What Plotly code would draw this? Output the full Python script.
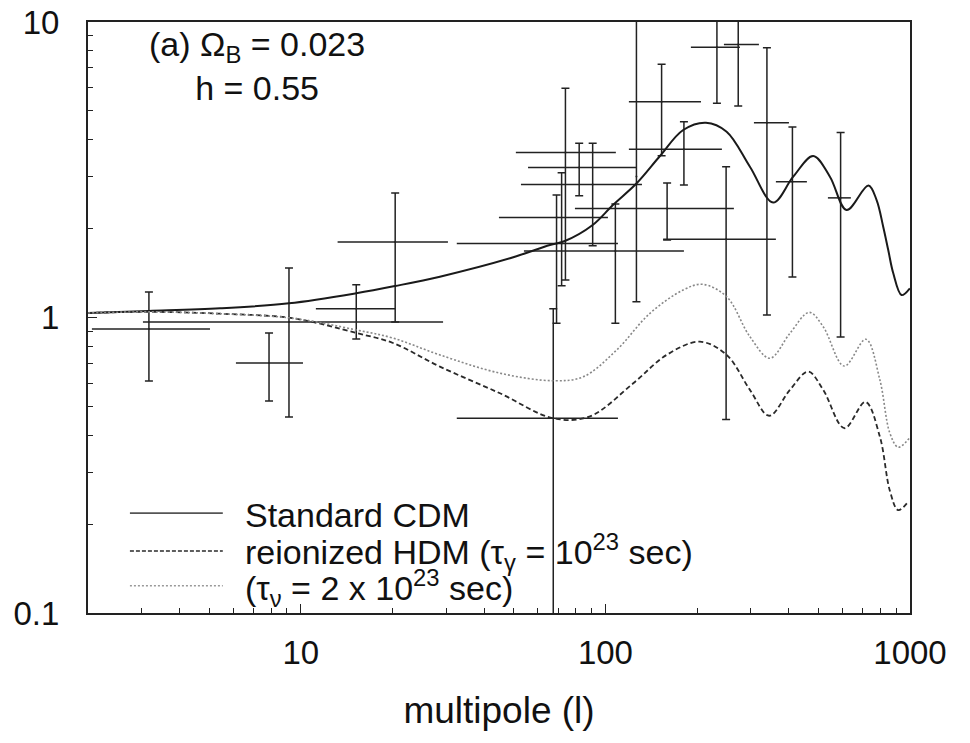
import plotly.graph_objects as go

# ---------------- data ----------------
# experimental band powers: multipole centre, window range, value, error range
pt_l    = [3.17, 7.86, 9.14, 15.2, 20.4, 67.4, 69.1, 71.8, 73.9, 82.0, 90.8, 107.8,
           126.4, 152.9, 159.4, 181.0, 232.3, 249.0, 272.9, 339.0, 411.1, 591.8]
pt_lmin = [2.06, 6.12, 3.03, 11.2, 13.2, 32.5, 44.7, 32.5, 50.8, 55.7, 52.8, 54.0,
           126.4, 119.4, 79.4, 119.4, 190.8, 154.7, 244.9, 307.3, 362.8, 537.6]
pt_lmax = [5.03, 10.16, 29.3, 20.4, 30.4, 109.9, 101.9, 109.9, 108.2, 126.9, 131.8, 181.0,
           126.4, 205.9, 264.1, 241.2, 276.4, 362.8, 319.1, 400.4, 458.6, 639.5]
pt_v    = [0.914, 0.701, 0.966, 1.07, 1.80, 0.456, 2.18, 1.78, 3.62, 3.22, 2.82, 1.68,
           3.0, 5.37, 2.34, 3.71, 8.21, 1.84, 8.40, 4.56, 2.88, 2.54]
pt_vmin = [0.610, 0.522, 0.461, 0.846, 0.966, 0.05, 0.956, 1.28, 1.34, 2.58, 1.75, 0.956,
           1.13, 3.53, 1.83, 2.81, 5.31, 0.452, 5.20, 1.02, 1.37, 0.859]
pt_vmax = [1.22, 0.886, 1.47, 1.29, 2.64, 1.07, 2.60, 3.09, 5.97, 3.89, 3.89, 2.42,
           20.0, 7.19, 2.85, 4.60, 20.0, 3.24, 20.0, 8.18, 4.41, 4.23]

# Standard CDM
cdm_l = [2.00, 3.17, 5.43, 9.14, 15.2, 20.4, 28.6, 48.6, 65.7, 73.6, 90.8, 105.8,
         126.6, 151.0, 180.0, 213.8, 250.0, 298.1, 355.4, 413.6, 481.0, 545.8,
         619.3, 730.1, 776.9, 816.6, 848.3, 880.8, 938.5, 999.0]
cdm_v = [1.036, 1.052, 1.074, 1.117, 1.208, 1.278, 1.374, 1.586, 1.759, 1.815, 2.056, 2.403,
         2.846, 3.520, 4.311, 4.563, 4.254, 3.238, 2.450, 2.996, 3.520, 2.996,
         2.310, 2.797, 2.498, 2.029, 1.692, 1.414, 1.191, 1.255]

# reionized HDM (tau = 1e23 s)
hdm1_l = [2.00, 3.195, 5.43, 9.42, 15.24, 20.06, 28.6, 45.05, 67.4, 88.55, 123.4, 158.8,
          204.3, 250.0, 298.1, 344.9, 403.4, 463.2, 518.8, 609.1, 713.7, 796.3, 859.0,
          914.5, 986.3]
hdm1_v = [1.036, 1.045, 1.03, 0.994, 0.886, 0.820, 0.682, 0.554, 0.456, 0.462, 0.599, 0.747,
          0.828, 0.747, 0.569, 0.465, 0.569, 0.656, 0.569, 0.422, 0.518, 0.395, 0.259,
          0.223, 0.238]

# (tau = 2e23 s)
hdm2_l = [2.00, 3.195, 5.43, 9.42, 15.24, 20.06, 28.6, 45.05, 67.4, 84.56, 108.8, 140.0,
          180.0, 208.4, 250.0, 298.1, 346.7, 403.4, 466.7, 518.8, 608.1, 716.5, 796.3,
          859.0, 914.5, 993.8]
hdm2_v = [1.036, 1.045, 1.03, 0.994, 0.907, 0.852, 0.747, 0.648, 0.611, 0.630, 0.776, 1.033,
          1.239, 1.295, 1.176, 0.861, 0.728, 0.884, 1.041, 0.931, 0.685, 0.844, 0.615,
          0.406, 0.364, 0.390]

legend_labels = ["Standard CDM",
                 "reionized HDM (τ<sub>γ</sub> = 10<sup>23</sup> sec)",
                 "(τ<sub>ν</sub> = 2 x 10<sup>23</sup> sec)"]

x_ticks = [10, 100, 1000]
y_ticks = [0.1, 1, 10]
x_minor = [2, 3, 4, 5, 6, 7, 8, 9, 20, 30, 40, 50, 60, 70, 80, 90,
           200, 300, 400, 500, 600, 700, 800, 900]
y_minor = [0.2, 0.3, 0.4, 0.5, 0.6, 0.7, 0.8, 0.9, 2, 3, 4, 5, 6, 7, 8, 9]

# ---------------- figure ----------------
FONT = "Liberation Sans, Arial, Helvetica, sans-serif"
INK = "#222222"

fig = go.Figure()

fig.add_trace(go.Scatter(
    x=pt_l, y=pt_v, mode="markers",
    marker=dict(size=2, color=INK),
    error_x=dict(type="data", symmetric=False,
                 array=[b - a for a, b in zip(pt_l, pt_lmax)],
                 arrayminus=[a - b for a, b in zip(pt_l, pt_lmin)],
                 color=INK, thickness=1.5, width=0),
    error_y=dict(type="data", symmetric=False,
                 array=[b - a for a, b in zip(pt_v, pt_vmax)],
                 arrayminus=[a - b for a, b in zip(pt_v, pt_vmin)],
                 color=INK, thickness=1.5, width=4),
    showlegend=False, hoverinfo="skip"))

fig.add_trace(go.Scatter(x=cdm_l, y=cdm_v, mode="lines", line_shape="spline",
                         line=dict(color="#1a1a1a", width=2), showlegend=False))
fig.add_trace(go.Scatter(x=hdm1_l, y=hdm1_v, mode="lines", line_shape="spline",
                         line=dict(color="#2a2a2a", width=1.8, dash="5px,3px"),
                         showlegend=False))
fig.add_trace(go.Scatter(x=hdm2_l, y=hdm2_v, mode="lines", line_shape="spline",
                         line=dict(color="#888888", width=1.6, dash="2px,2px"),
                         showlegend=False))

# manual legend (long sample lines as in the original)
leg_y = [0.169, 0.105, 0.046]
leg_text_y = [0.166, 0.104, 0.043]
leg_style = [dict(color="#555555", width=1.6),
             dict(color="#2a2a2a", width=1.6, dash="4px,2px"),
             dict(color="#999999", width=1.6, dash="2px,2px")]
for yy, ty, st, lab in zip(leg_y, leg_text_y, leg_style, legend_labels):
    fig.add_shape(type="line", xref="paper", yref="paper",
                  x0=0.051, x1=0.164, y0=yy, y1=yy, line=st)
    fig.add_annotation(xref="paper", yref="paper", x=0.189, y=ty,
                       xanchor="left", yanchor="middle", showarrow=False,
                       text=lab, font=dict(family=FONT, size=34, color="#111111"))

fig.add_annotation(xref="paper", yref="paper", x=0.205, y=0.925,
                   xanchor="center", yanchor="middle", showarrow=False, align="center",
                   text="(a) Ω<sub>B</sub> = 0.023<br>h = 0.55",
                   font=dict(family=FONT, size=34, color="#111111"))

# frame at 88..910 x 22..613 of the 970x743 page
fig.update_layout(
    width=970, height=743,
    margin=dict(l=88, r=60, t=22, b=130),
    paper_bgcolor="white", plot_bgcolor="white",
    font=dict(family=FONT, size=32, color="#111111"),
    showlegend=False,
)

fig.update_xaxes(
    type="log", range=[0.30103, 3.0], automargin=False, ticklabeloverflow="allow",
    tickmode="array", tickvals=x_ticks, ticktext=[str(v) for v in x_ticks],
    ticks="inside", ticklen=9, tickwidth=1.2, tickcolor=INK,
    minor=dict(tickmode="array", tickvals=x_minor, ticks="inside", ticklen=5,
               tickwidth=1.2, tickcolor=INK, showgrid=False),
    showline=True, linecolor=INK, linewidth=2, mirror=True,
    showgrid=False, zeroline=False, ticklabelstandoff=9,
    tickfont=dict(family=FONT, size=33),
    title=dict(text="multipole (l)", font=dict(family=FONT, size=37), standoff=28),
)
fig.update_yaxes(
    type="log", range=[-1, 1], automargin=False, ticklabeloverflow="allow",
    tickmode="array", tickvals=y_ticks, ticktext=["0.1", "1", "10"],
    ticks="inside", ticklen=9, tickwidth=1.2, tickcolor=INK,
    minor=dict(tickmode="array", tickvals=y_minor, ticks="inside", ticklen=5,
               tickwidth=1.2, tickcolor=INK, showgrid=False),
    showline=True, linecolor=INK, linewidth=2, mirror=True,
    showgrid=False, zeroline=False, ticklabelstandoff=20,
    tickfont=dict(family=FONT, size=33),
)

# remove the default page margin so the figure fills the window from its corner
fig.write_html("out.html", config={"displayModeBar": False},
               post_script="document.body.style.margin='0';")
